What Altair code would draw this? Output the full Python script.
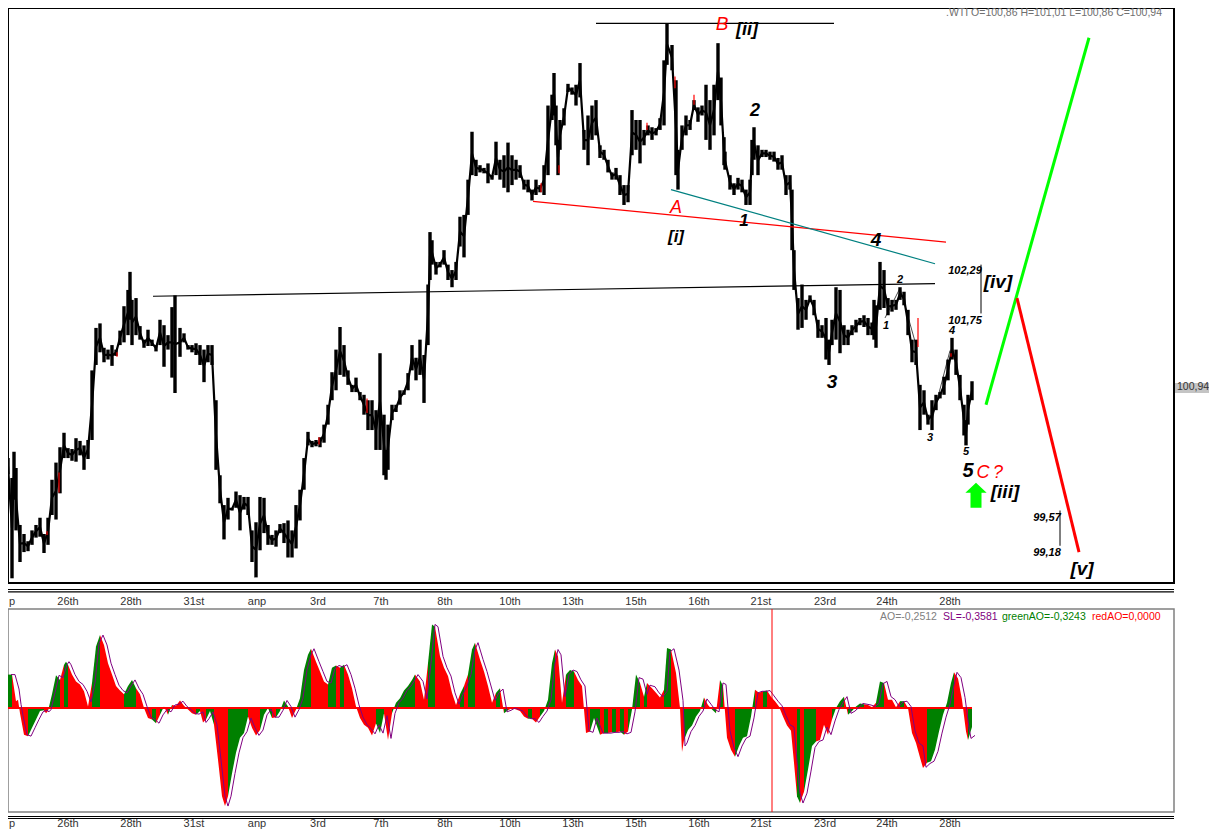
import altair as alt
import pandas as pd

FONT = "Liberation Sans"

# ---------- price bars: position, high, low ----------
bar_pos = [8,12,14,16,20,24,28,32,36,40,44,48,52,56,60,64,68,72,76,80,84,88,92,96,100,104,108,112,116,120,124,128,130,132,136,140,144,148,152,156,160,164,168,172,175,180,184,188,192,196,200,204,208,212,216,220,224,228,232,236,240,244,
248,252,256,260,264,268,272,276,280,284,288,292,296,300,304,308,312,316,320,324,328,332,336,340,344,348,352,356,360,364,368,372,376,380,384,386,388,392,396,400,404,408,412,416,420,424,428,430,432,436,440,444,448,452,456,460,464,468,472,476,480,484,
488,492,496,500,504,508,512,516,520,524,528,532,536,540,544,548,552,554,556,558,560,564,568,572,576,580,584,588,592,596,600,604,608,612,616,620,624,628,632,636,640,644,648,652,656,660,664,667,672,676,678,682,686,690,694,698,702,706,710,714,718,721,724,
725,730,734,738,742,746,750,752,754,758,762,766,770,774,778,782,786,790,792,794,798,802,806,810,814,818,822,826,829,832,836,840,844,848,852,856,860,864,868,872,874,876,880,884,888,892,896,900,904,908,912,916,920,924,928,932,936,940,944,948,952,956,960,964,966,968,972]
price_high = [100.15,99.93,100.22,100.04,99.41,99.31,99.23,99.35,99.41,99.49,99.31,99.49,99.91,100.10,100.27,100.43,100.26,100.25,100.37,100.34,100.29,100.35,101.12,101.59,101.64,101.37,101.35,101.40,101.35,101.56,101.83,102.01,102.21,101.90,101.92,101.61,101.46,101.57,101.46,101.40,101.68,101.62,101.51,101.82,101.95,101.59,101.53,101.40,101.40,101.42,101.40,101.35,101.40,101.40,100.79,99.96,99.63,99.71,99.60,99.78,99.74,99.72,
99.72,99.35,99.44,99.72,99.71,99.41,99.30,99.35,99.42,99.43,99.46,99.35,99.63,99.80,100.15,100.44,100.34,100.35,100.38,100.52,100.74,101.10,101.35,101.60,101.40,101.12,100.96,101.04,100.88,100.85,100.79,100.79,100.68,101.31,100.63,100.24,100.52,100.74,100.74,100.90,100.90,101.09,101.40,101.26,101.46,101.29,102.07,102.65,102.56,102.32,102.32,102.45,102.29,102.23,102.32,102.82,102.84,103.23,103.76,103.45,103.39,103.36,
103.41,103.28,103.65,103.45,103.50,103.64,103.50,103.45,103.39,103.23,103.23,103.12,103.23,103.17,103.39,104.05,104.17,104.41,104.05,103.67,103.89,104.02,104.29,104.25,104.28,104.52,103.78,103.94,104.05,104.11,103.61,103.56,103.45,103.31,103.36,103.28,103.17,103.17,104.00,103.89,103.89,103.78,103.83,103.81,103.80,103.91,104.55,104.96,104.72,104.33,103.56,103.83,103.94,103.89,104.11,104.03,104.05,104.28,104.11,104.28,104.74,104.36,103.70,
103.54,103.28,103.19,103.25,103.23,103.12,103.23,103.67,103.81,103.61,103.56,103.56,103.54,103.54,103.47,103.50,103.28,103.28,103.12,102.45,101.92,102.07,101.90,101.95,101.90,101.68,101.62,101.70,101.46,101.68,102.04,102.01,101.62,101.57,101.62,101.68,101.70,101.73,101.70,101.65,101.90,101.84,102.32,102.23,101.92,101.90,101.90,102.04,101.99,101.79,101.46,101.46,100.96,100.90,100.63,100.79,100.85,100.88,101.05,101.24,101.48,101.35,101.07,100.74,100.57,100.85,101.00]
price_low = [99.97,98.82,99.69,99.35,99.00,99.11,99.12,99.19,99.27,99.28,99.10,99.19,99.52,99.47,99.76,100.15,100.15,100.12,100.11,100.18,100.02,100.14,100.35,101.18,101.32,101.21,101.24,101.17,101.28,101.40,101.43,101.51,101.68,101.40,101.51,101.46,101.37,101.39,101.39,101.33,101.40,101.16,101.35,101.04,100.87,101.27,101.43,101.35,101.32,101.29,101.18,100.99,101.21,101.18,100.02,99.65,99.25,99.47,99.57,99.60,99.35,99.58,
99.52,99.00,98.83,99.13,99.32,99.19,99.19,99.17,99.32,99.21,99.05,99.05,99.15,99.46,99.80,100.29,100.27,100.28,100.27,100.32,100.52,100.79,100.90,101.07,101.05,100.96,100.88,100.88,100.79,100.63,100.46,100.46,100.24,100.24,99.96,99.91,100.02,100.57,100.66,100.74,100.85,100.90,101.12,101.01,101.07,100.76,101.40,102.12,102.29,102.18,102.26,102.29,102.12,102.04,102.12,102.49,102.37,102.84,103.28,103.27,103.31,103.30,
103.19,103.23,103.28,103.23,103.14,103.09,103.17,103.23,103.25,103.12,103.09,103.00,103.06,103.09,103.06,103.28,103.89,103.94,103.61,103.28,103.56,103.83,104.20,104.17,104.05,104.14,103.56,103.39,103.67,103.72,103.47,103.45,103.31,103.23,103.23,103.06,102.95,102.98,103.50,103.56,103.41,103.61,103.72,103.67,103.72,103.78,103.83,104.50,104.44,103.28,103.12,103.56,103.72,103.78,104.00,103.87,103.94,103.67,103.56,103.72,104.11,103.83,103.39,
103.34,103.12,103.06,103.12,103.09,102.95,102.95,103.28,103.45,103.28,103.48,103.48,103.45,103.43,103.34,103.34,103.06,103.12,102.45,102.01,101.57,101.59,101.68,101.88,101.73,101.48,101.48,101.24,101.18,101.40,101.46,101.31,101.40,101.40,101.51,101.54,101.62,101.60,101.51,101.51,101.46,101.37,101.79,101.81,101.73,101.77,101.79,101.90,101.84,101.51,101.21,101.18,100.46,100.63,100.52,100.46,100.68,100.81,100.85,101.01,101.24,101.07,100.79,100.40,100.29,100.52,100.79]

# small red accents on the price bars
red_pos = [47,59,117,319,367,541,559,647,675,694,918,951]
red_top = [99.34,99.99,101.32,100.38,100.81,103.19,103.39,103.86,104.37,104.17,101.70,101.31]
red_bot = [99.30,99.77,101.27,100.30,100.65,103.09,103.30,103.78,104.24,104.06,101.38,101.27]

# ---------- drawn lines ----------
line_id = ["top","top","sup","sup","redT","redT","teal","teal","green","green","redD","redD","v1","v1","v2","v2","z1","z1","z2","z2","z3","z3"]
line_x = [596,834,153,935,533,946,671,935,986,1089,1017,1079,981,981,1060,1060,885,900,900,916,932,950]
line_p = [104.96,104.96,101.94,102.08,102.99,102.54,103.12,102.30,100.74,104.80,101.92,99.11,102.29,101.75,99.57,99.18,101.70,102.03,102.03,101.40,100.57,101.34]
line_colors = {"top":"#000000","sup":"#000000","redT":"#ff0000","teal":"#008080","green":"#00ff00","redD":"#ff0000","v1":"#000000","v2":"#000000","z1":"#000000","z2":"#000000","z3":"#000000"}
line_widths = {"top":1.2,"sup":1.2,"redT":1.3,"teal":1.2,"green":3,"redD":3,"v1":1,"v2":1,"z1":0.7,"z2":0.7,"z3":0.7}

# ---------- wave labels ----------
blk_text = ["[ii]","2","[i]","1","4","3","[iv]","102,29","101,75","2","1","4","3","5","5","[iii]","99,57","99,18","[v]"]
blk_x = [747,755,676,744,876,832,998,965,965,900,886,952,930,966,968,1005,1047,1047,1082]
blk_p = [104.89,103.99,102.60,102.77,102.56,100.99,102.10,102.22,101.67,102.12,101.61,101.56,100.37,100.22,100.01,99.77,99.49,99.10,98.92]
blk_size = [18,18,17,17,19,19,19,11,11,11,11,11,11,11,20,19,11,11,19]
red_text = ["B","A","C","?"]
red_x = [722,676,983,998]
red_p = [104.95,102.92,99.98,99.98]
red_size = [19,18,18,18]
arrow_x = [976]
arrow_p = [99.74]

# ---------- axis ticks ----------
price_ticks = [99,100,101,102,103,104]
ao_ticks = [-1,-0.5,0,0.5,1]
date_pos = [12,68,131,194,257,318,381,445,510,573,636,699,761,825,887,950]
date_lab = ["p","26th","28th","31st","anp","3rd","7th","8th","10th","13th","15th","16th","21st","23rd","24th","28th"]

# ---------- oscillator ----------
ao_x = [8,12,16,18,20,24,28,32,36,40,44,46,48,52,56,60,64,66,68,72,76,80,84,88,92,96,100,104,108,112,116,120,124,128,132,136,140,144,148,152,156,160,164,168,172,176,180,184,188,192,196,200,203,206,210,214,218,222,225,228,232,236,240,244,248,252,256,260,264,268,272,276,280,284,288,292,296,300,304,308,311,316,320,324,328,332,336,340,344,348,352,356,360,364,368,372,376,380,384,388,392,396,400,404,408,412,415,420,424,428,432,435,440,444,448,452,456,460,464,468,472,475,480,484,488,492,496,500,504,508,512,516,520,524,528,532,536,540,544,548,552,555,558,562,566,570,574,578,582,586,590,594,
600,604,608,612,616,620,624,628,632,636,640,644,647,652,656,660,664,667,671,676,680,682,684,688,692,696,700,704,708,712,716,720,723,727,731,735,739,743,747,751,755,759,763,767,771,775,779,783,787,791,794,797,800,804,808,812,816,820,824,828,832,836,840,844,848,852,856,860,864,868,872,876,880,884,888,892,896,900,904,908,912,916,920,923,927,931,935,939,943,947,951,954,958,962,966,968,972]
ao_val = [.44,.44,.09,.11,-.07,-.35,-.37,-.26,-.15,-.04,-.03,-.07,-.04,.18,.43,.37,.57,.61,.57,.44,.35,.31,.22,.02,.33,.81,.96,.83,.59,.44,.29,.23,.18,.29,.37,.26,.18,0,-.13,-.15,-.20,-.09,.02,-.09,.04,.03,.10,.03,-.02,-.07,-.09,-.04,-.19,-.15,-.04,-.22,-.68,-1.16,-1.29,-1.16,-.86,-.59,-.39,-.33,-.11,-.26,-.36,-.29,-.09,0,-.13,-.12,-.04,.10,.02,-.13,-.02,.13,.50,.70,.78,.61,.48,.35,.31,.53,.56,.53,.57,.44,.26,.02,-.13,-.22,-.26,-.36,-.20,-.33,-.07,-.42,-.07,.07,.13,.23,.29,.37,.44,.35,.11,.59,1.10,1.07,.68,.53,.42,.20,.04,.18,.29,.44,.77,.86,.64,.48,.29,.07,.20,.26,-.07,-.03,0,-.02,-.04,-.11,-.14,-.14,-.19,-.11,-.04,.11,.59,.77,.68,.07,.44,.50,.48,.37,.29,-.33,-.31,-.13,
-.35,-.33,-.33,-.32,-.32,-.31,-.35,-.31,-.02,.44,.33,.15,.33,.26,.20,.14,.24,.79,.77,.46,0,-.58,-.42,-.29,-.23,-.11,-.04,.14,.04,-.02,-.07,.37,.29,-.39,-.55,-.64,-.50,-.39,-.37,-.11,.24,.20,.22,.23,.15,.09,.02,-.11,-.23,-.30,-.72,-1.16,-1.25,-1.10,-.81,-.50,-.44,-.42,-.22,-.35,-.15,0,.09,.15,-.09,-.04,.02,.06,.05,.04,.01,.07,.35,.33,.11,.11,.01,.09,.09,0,-.33,-.46,-.65,-.79,-.72,-.70,-.55,-.31,-.09,.07,.33,.47,.39,.11,-.31,-.42,-.25]
ao_col = ("G RRRRR GGGG RR GGG R GG RRRRRR GG RRRRRR GGG RRRR G R G R G RRRRRR G RR GG RRRR GGGGG RRR GGG R GGG RR GGGG RRRR GG R G RRRRRRRR GG RR GGGGGG RRR GG RRRRRR G R GG RRRRR G R G RRRRR G RR GGGG RRR GG RRRR GG "
          "RGRGRGR GGG R G RRRR GG RRRR GGGGG RR G R G RRR GGGGG RR G RRRRRRRR G R GGG RRRR GGG R GGGG RRR GG RRRR G RRRRRR GGGGGGG RRRR GG").replace(" ","")
sig_val = [.44,.44,.25,.05,-.10,-.35,-.37,-.26,-.15,-.05,-.03,-.05,-.02,.20,.43,.40,.57,.61,.57,.44,.35,.31,.22,.08,.33,.85,.96,.83,.59,.44,.30,.23,.20,.29,.37,.26,.18,.02,-.12,-.15,-.20,-.09,-.02,-.05,.04,.05,.09,.02,-.02,-.07,-.08,-.05,-.19,-.14,-.05,-.22,-.68,-1.16,-1.29,-1.16,-.86,-.59,-.39,-.31,-.13,-.26,-.36,-.29,-.09,-.02,-.12,-.12,-.03,.10,.02,-.12,-.02,.13,.50,.70,.78,.61,.48,.35,.33,.52,.56,.54,.57,.44,.26,.04,-.12,-.22,-.27,-.34,-.22,-.33,-.10,-.40,-.07,.07,.13,.23,.29,.37,.44,.35,.12,.59,1.10,1.07,.68,.53,.42,.20,.05,.18,.29,.44,.77,.86,.64,.48,.29,.10,.20,.25,-.05,-.03,0,-.02,-.04,-.11,-.14,-.14,-.19,-.11,-.04,.11,.59,.77,.70,.15,.44,.50,.48,.37,.29,-.30,-.32,-.13,
-.33,-.33,-.33,-.32,-.32,-.31,-.34,-.32,-.05,.40,.38,.18,.30,.28,.20,.15,.22,.74,.78,.50,.10,-.50,-.46,-.31,-.23,-.11,-.04,.12,.05,-.02,-.05,.33,.31,-.30,-.52,-.64,-.50,-.40,-.37,-.13,.20,.22,.22,.23,.16,.09,.03,-.10,-.22,-.25,-.70,-1.12,-1.25,-1.12,-.83,-.52,-.44,-.42,-.25,-.35,-.17,-.02,.07,.15,-.07,-.04,.01,.06,.05,.04,.02,.06,.32,.35,.15,.11,.02,.08,.09,.02,-.30,-.46,-.50,-.78,-.73,-.70,-.57,-.33,-.12,.05,.30,.47,.40,.14,-.26,-.40,-.36]

lens = (len(bar_pos),len(price_high),len(price_low),len(ao_x),len(ao_val),len(ao_col),len(sig_val))
assert lens[0]==lens[1]==lens[2] and lens[3]==lens[4]==lens[5]==lens[6], str(lens)

HEADER = ".WTI O=100,86 H=101,01 L=100,86 C=100,94"
ind_text = ["AO=-0,2512","SL=-0,3581","greenAO=-0,3243","redAO=0,0000"]
ind_x = [880,943,1002,1092]
ind_col = ["#808080","#800080","#008000","#ff0000"]

# ---------- scales ----------
xs = alt.Scale(domain=[8,1174], nice=False, zero=False)
ys = alt.Scale(domain=[98.768,105.129], nice=False, zero=False)
ya = alt.Scale(domain=[-1.368,1.303], nice=False, zero=False)
W, H1, H2 = 1166, 575, 203
def X(f): return alt.X(f, type="quantitative", scale=xs, axis=None)
def P(f): return alt.Y(f, type="quantitative", scale=ys, axis=None)
def A(f): return alt.Y(f, type="quantitative", scale=ya, axis=None)

price_axis = alt.Axis(values=price_ticks, orient="right", title=None, ticks=False, domain=False, grid=False,
    labelPadding=3, labelFont=FONT, labelFontSize=10.5, labelColor="#444444",
    labelExpr="replace(format(datum.value,'.2f'),'.',',')")
ao_axis = alt.Axis(values=ao_ticks, orient="right", title=None, ticks=False, domain=False, grid=False,
    labelPadding=2, labelFont=FONT, labelFontSize=10, labelColor="#444444",
    labelExpr="replace(replace(format(datum.value,'.4f'),'.',','),'\u2212','-')")

# ---------- price panel ----------
bars = pd.DataFrame({"x":bar_pos,"hi":price_high,"lo":price_low})
bars["mid"] = (bars.hi+bars.lo)/2
reds = pd.DataFrame({"x":red_pos,"t":red_top,"b":red_bot})
lines = pd.DataFrame({"id":line_id,"x":line_x,"p":line_p})
blk = pd.DataFrame({"t":blk_text,"x":blk_x,"p":blk_p,"s":blk_size})
rtx = pd.DataFrame({"t":red_text,"x":red_x,"p":red_p,"s":red_size})
dates = pd.DataFrame({"x":date_pos,"t":date_lab})

base_axis = alt.Chart(pd.DataFrame({"p":price_ticks})).mark_point(opacity=0).encode(
    y=alt.Y("p:Q", scale=ys, axis=price_axis))
price_rule = alt.Chart(bars).mark_rule(color="black", strokeWidth=3.4).encode(x=X("x"), y=P("lo"), y2="hi")
price_line = alt.Chart(bars).mark_line(color="black", strokeWidth=2.2).encode(x=X("x"), y=P("mid"))
red_rule = alt.Chart(reds).mark_rule(color="#ff0000", strokeWidth=1.2).encode(x=X("x"), y=P("b"), y2="t")
draw = [alt.Chart(lines[lines.id==k]).mark_line(color=c, strokeWidth=line_widths[k]).encode(x=X("x"), y=P("p"))
        for k,c in line_colors.items()]
txt_b = alt.Chart(blk).mark_text(font=FONT, fontStyle="italic", fontWeight="bold", color="black", baseline="middle", align="center").encode(
    x=X("x"), y=P("p"), text="t:N", size=alt.Size("s:Q", scale=None, legend=None))
txt_r = alt.Chart(rtx).mark_text(font=FONT, fontStyle="italic", color="#ff0000", baseline="middle", align="center").encode(
    x=X("x"), y=P("p"), text="t:N", size=alt.Size("s:Q", scale=None, legend=None))
arrow = alt.Chart(pd.DataFrame({"x":arrow_x,"p":arrow_p})).mark_point(
    shape="M0,-1L0.85,-0.2L0.44,-0.2L0.44,1L-0.44,1L-0.44,-0.2L-0.85,-0.2Z",
    size=625, filled=True, color="#00ff00", opacity=1).encode(x=X("x"), y=P("p"))
header = alt.Chart(pd.DataFrame({"x":[1162],"p":[105.07],"t":[HEADER]})).mark_text(
    font=FONT, fontSize=10.5, color="#707070", align="right", baseline="middle").encode(x=X("x"), y=P("p"), text="t:N")
box = alt.Chart(pd.DataFrame({"t":[100.98],"b":[100.87]})).mark_rect(color="#c4c4c4").encode(
    x=alt.value(1167), x2=alt.value(1202), y=P("t"), y2="b")
box_t = alt.Chart(pd.DataFrame({"p":[100.94],"t":["100,94"]})).mark_text(
    font=FONT, fontSize=10.5, color="#333333", align="left", baseline="middle").encode(x=alt.value(1169), y=P("p"), text="t:N")
sep = [alt.Chart(pd.DataFrame({"a":[0]})).mark_rule(color="black", strokeWidth=1.2).encode(
    x=alt.value(0), x2=alt.value(W), y=alt.value(v)) for v in (581.5,583.8)]
d1 = alt.Chart(dates).mark_text(font=FONT, fontSize=11, color="#333333", baseline="middle").encode(
    x=X("x"), y=alt.value(594), text="t:N")

upper = alt.layer(base_axis, price_line, price_rule, red_rule, *draw, txt_b, txt_r, arrow, header, box, box_t, *sep, d1).properties(
    width=W, height=H1, view=alt.ViewBackground(stroke="black", strokeWidth=2))

# ---------- oscillator panel: one filled run per colour stretch ----------
rows = []
run = 0
for i in range(len(ao_x)):
    if i and ao_col[i] != ao_col[i-1]:
        rows.append({"x":ao_x[i],"v":ao_val[i],"c":ao_col[i-1],"run":run})
        run += 1
    rows.append({"x":ao_x[i],"v":ao_val[i],"c":ao_col[i],"run":run})
ao = pd.DataFrame(rows)
ao["z"] = 0.0
sig = pd.DataFrame({"x":[a+3 for a in ao_x],"v":sig_val})
ao_base = alt.Chart(pd.DataFrame({"p":ao_ticks})).mark_point(opacity=0).encode(y=alt.Y("p:Q", scale=ya, axis=ao_axis))
ao_bars = alt.Chart(ao).mark_area().encode(
    x=X("x"), y=A("v"), y2=alt.Y2("z:Q"), detail="run:N",
    color=alt.Color("c:N", scale=alt.Scale(domain=["R","G"], range=["#ff0000","#008000"]), legend=None))
ao_zero = alt.Chart(pd.DataFrame({"x":[8],"x2":[972],"v":[0]})).mark_rule(color="#ff0000", strokeWidth=2).encode(
    x=X("x"), x2="x2:Q", y=A("v"))
ao_sig = alt.Chart(sig).mark_line(color="#800080", strokeWidth=1).encode(x=X("x"), y=A("v"))
cursor = alt.Chart(pd.DataFrame({"x":[772]})).mark_rule(color="#ff0000", strokeWidth=1).encode(x=X("x"))
ind = alt.Chart(pd.DataFrame({"x":ind_x,"v":[1.197]*4,"t":ind_text,"c":ind_col})).mark_text(
    font=FONT, fontSize=10.5, align="left", baseline="middle").encode(
    x=X("x"), y=A("v"), text="t:N", color=alt.Color("c:N", scale=None, legend=None))
sep2 = [alt.Chart(pd.DataFrame({"a":[0]})).mark_rule(color="black", strokeWidth=1.2).encode(
    x=alt.value(0), x2=alt.value(W), y=alt.value(v)) for v in (207.5,209.5)]
d2 = alt.Chart(dates).mark_text(font=FONT, fontSize=11, color="#333333", baseline="middle").encode(
    x=X("x"), y=alt.value(215), text="t:N")

lower = alt.layer(ao_base, ao_bars, ao_zero, ao_sig, cursor, ind, *sep2, d2).resolve_scale(color="independent").properties(
    width=W, height=H2, view=alt.ViewBackground(stroke="#808080", strokeWidth=1.5))

chart = alt.vconcat(upper, lower, spacing=26, bounds="flush").properties(
    padding={"left":-6,"top":-1,"right":-2,"bottom":-1}, background="white")
chart.save("out.html", embed_options={"renderer":"svg","actions":False})
